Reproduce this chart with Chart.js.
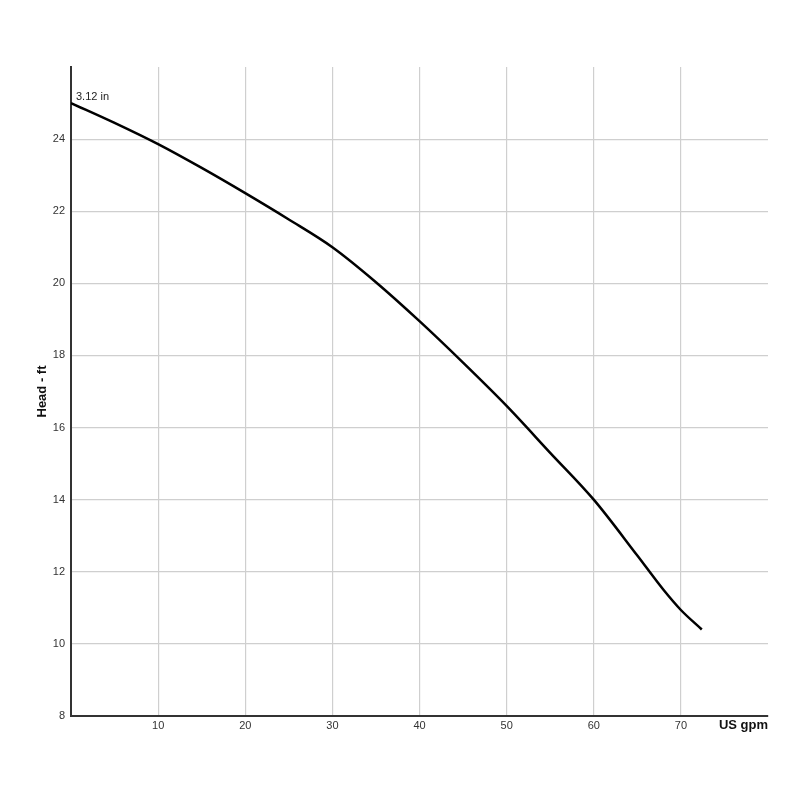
<!DOCTYPE html>
<html>
<head>
<meta charset="utf-8">
<script src="https://cdn.jsdelivr.net/npm/chart.js@4"></script>
<style>
  html, body { margin: 0; padding: 0; background: #fff; }
  #wrap { width: 800px; height: 800px; }
</style>
</head>
<body>
<div id="wrap"><canvas id="pumpChart" width="800" height="800"></canvas></div>
<script>
// pump curve
const flowGpm = [0, 5, 10, 15, 20, 25, 30, 35, 40, 45, 50, 55, 60, 65, 68, 70, 72.4];
const headFt = [25, 24.45, 23.86, 23.2, 22.5, 21.77, 21.0, 20.03, 18.95, 17.8, 16.6, 15.3, 14.0, 12.45, 11.5, 10.94, 10.4];
const curveLabel = '3.12 in';
const xTitle = 'US gpm';
const yTitle = 'Head - ft';

const FONT = '"Liberation Sans", Arial, sans-serif';

// axis titles + the curve label, placed by hand like the original
const labelsPlugin = {
  id: 'labels',
  afterDraw(chart) {
    const { ctx, chartArea, scales } = chart;
    ctx.save();
    ctx.fillStyle = '#111';
    ctx.font = 'bold 13px ' + FONT;
    ctx.textAlign = 'right';
    ctx.textBaseline = 'middle';
    ctx.fillText(xTitle, chartArea.right, chartArea.bottom + 9);

    ctx.translate(42, (chartArea.top + chartArea.bottom) / 2);
    ctx.rotate(-Math.PI / 2);
    ctx.textAlign = 'center';
    ctx.fillText(yTitle, 0, 0);
    ctx.restore();

    ctx.save();
    ctx.fillStyle = '#222';
    ctx.font = '11px ' + FONT;
    ctx.textAlign = 'left';
    ctx.textBaseline = 'bottom';
    ctx.fillText(curveLabel, scales.x.getPixelForValue(flowGpm[0]) + 5, scales.y.getPixelForValue(headFt[0]) - 1);
    ctx.restore();
  }
};

new Chart(document.getElementById('pumpChart'), {
  type: 'line',
  data: {
    datasets: [{
      data: flowGpm.map((x, i) => ({ x, y: headFt[i] })),
      borderColor: '#000',
      borderWidth: 2.5,
      pointRadius: 0,
      cubicInterpolationMode: 'monotone',
      fill: false,
    }],
  },
  options: {
    responsive: false,
    animation: false,
    layout: { padding: { top: 67, right: 32, left: 0, bottom: 0 } },
    plugins: { legend: { display: false }, tooltip: { enabled: false } },
    scales: {
      x: {
        type: 'linear', min: 0, max: 80,
        afterFit(s) { s.height = 84; },
        border: { color: '#333', width: 2 },
        grid: {
          drawTicks: false,
          color: c => (c.tick.value === 80 ? 'rgba(0,0,0,0)' : '#cfcfcf'),
          lineWidth: 1.2,
        },
        ticks: {
          stepSize: 10, padding: 3, color: '#333',
          font: { family: FONT, size: 11 },
          callback: v => (v === 0 || v === 80 ? '' : v),
        },
      },
      y: {
        min: 8, max: 26,
        afterFit(s) { s.width = 71; },
        border: { color: '#333', width: 2 },
        grid: {
          drawTicks: false,
          color: c => (c.tick.value === 26 ? 'rgba(0,0,0,0)' : '#cfcfcf'),
          lineWidth: 1.2,
        },
        ticks: {
          stepSize: 2, padding: 6, color: '#333',
          font: { family: FONT, size: 11 },
          callback: v => (v === 26 ? '' : v),
        },
      },
    },
  },
  plugins: [labelsPlugin],
});
</script>
</body>
</html>
